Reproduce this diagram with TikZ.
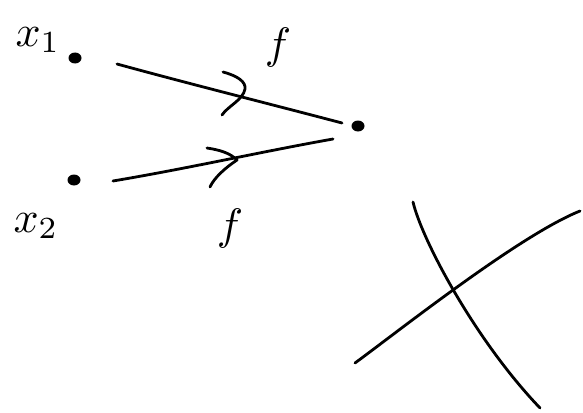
\documentclass[tikz,border=0pt]{standalone}
\usetikzlibrary{shapes.geometric}
\begin{document}
\begin{tikzpicture}[x=1pt,y=-1pt,
  pen/.style={line width=2.8pt,line cap=round,line join=round},
  dotnode/.style={ellipse,fill=black,inner sep=0pt,minimum width=13pt,minimum height=11pt},
  lbl/.style={inner sep=0pt,scale=4.4}]
\useasboundingbox (0,0) rectangle (583,412);
% points
\node[dotnode] (x1) at (75,58) {};
\node[dotnode] (x2) at (74,180) {};
\node[dotnode] (y) at (358,126) {};
\node[lbl] (l1) at (38,40) {$x_1$};
\node[lbl] (l2) at (36,226) {$x_2$};
\node[lbl] (f1) at (278,48) {$f$};
\node[lbl] (f2) at (230,228) {$f$};
% connectors
\draw[pen] (x1) ++(42,6) coordinate (a1) .. controls (190,84) and (270,104) .. (342,123) coordinate (b1);
\draw[pen] (x2) ++(39,1) coordinate (a2) .. controls (190,168) and (260,152) .. (333,139) coordinate (b2);
% chevrons
\draw[pen] (223,72) .. controls (238,76) and (246,82) .. (245,89) .. controls (243,100) and (228,106) .. (222,115);
\draw[pen] (207,148) .. controls (220,150) and (230,153) .. (237,160) .. controls (225,168) and (214,178) .. (210,187);
% big cross
\draw[pen] (413,202) .. controls (422,240) and (475,340) .. (540,408);
\draw[pen] (355,363) .. controls (400,330) and (520,235) .. (580,211);
\end{tikzpicture}
\end{document}
